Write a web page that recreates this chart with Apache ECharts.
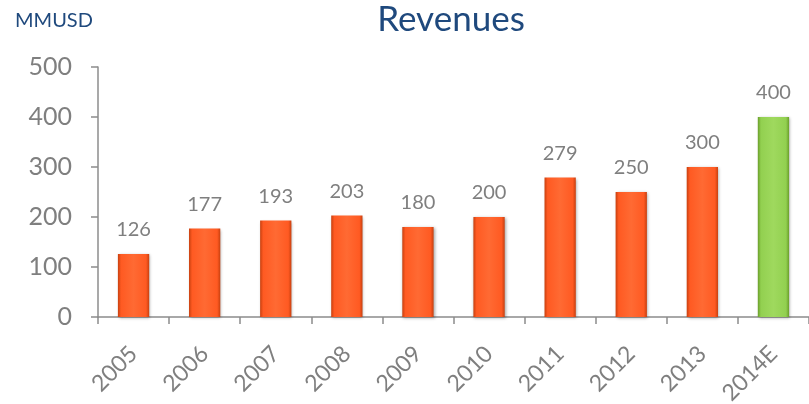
<!DOCTYPE html>
<html><head><meta charset="utf-8">
<script src="https://cdn.jsdelivr.net/npm/echarts@6/dist/echarts.min.js"></script>
<style>html,body{margin:0;padding:0;background:#fff}#c{width:809px;height:404px}</style>
</head><body><div id="c"></div>
<script>
var categories = ['2005','2006','2007','2008','2009','2010','2011','2012','2013','2014E'];
var revenues = [126,177,193,203,180,200,279,250,300,400];
var yTicks = [0,100,200,300,400,500];

function grad(dark, mid, light){
  return new echarts.graphic.LinearGradient(0,0,1,0,[
    {offset:0,color:dark},{offset:0.1,color:mid},{offset:0.5,color:light},{offset:0.9,color:mid},{offset:1,color:dark}
  ]);
}
var orange = grad('#c8400f','#ff5a22','#ff6a33');
var green = grad('#6a9e2a','#92d050','#9fd95e');

var data = revenues.map(function(v,i){
  return {value:v, itemStyle:{color: categories[i]==='2014E' ? green : orange}};
});

var chart = echarts.init(document.getElementById('c'));
chart.setOption({
  animation:false,
  title:[
    {text:'Revenues', left:451, top:2, textAlign:'center', padding:0,
     textStyle:{color:'#1f497d', fontSize:35, fontWeight:'normal', fontFamily:'Lato'}},
    {text:'MMUSD', left:15, top:11, padding:0,
     textStyle:{color:'#1f497d', fontSize:20, fontWeight:'normal', fontFamily:'Lato'}}
  ],
  grid:{left:98, right:0, top:67, bottom:87, containLabel:false, outerBoundsMode:'none'},
  xAxis:{
    type:'category', data:categories,
    axisLine:{lineStyle:{color:'#8c8c8c', width:1.5}},
    axisTick:{show:true, alignWithLabel:false, length:7, lineStyle:{color:'#8c8c8c', width:1.5}},
    axisLabel:{rotate:45, color:'#7f7f7f', fontSize:23, fontFamily:'Lato', margin:33, interval:0}
  },
  yAxis:{
    type:'value', min:0, max:500, interval:100,
    axisLine:{show:true, lineStyle:{color:'#8c8c8c', width:1.5}},
    axisTick:{show:true, length:7, lineStyle:{color:'#8c8c8c', width:1.5}},
    splitLine:{show:false},
    axisLabel:{color:'#7f7f7f', fontSize:25, fontFamily:'Lato', margin:26,
      formatter:function(v){return yTicks.indexOf(v)>=0 ? String(v) : '';}}
  },
  series:[{
    type:'bar', data:data, barWidth:'44%',
    itemStyle:{shadowColor:'rgba(0,0,0,0.35)', shadowBlur:3, shadowOffsetX:1, shadowOffsetY:1},
    label:{show:true, position:'top', distance:14, color:'#7f7f7f', fontSize:20, fontFamily:'Lato'}
  }]
});
</script></body></html>
